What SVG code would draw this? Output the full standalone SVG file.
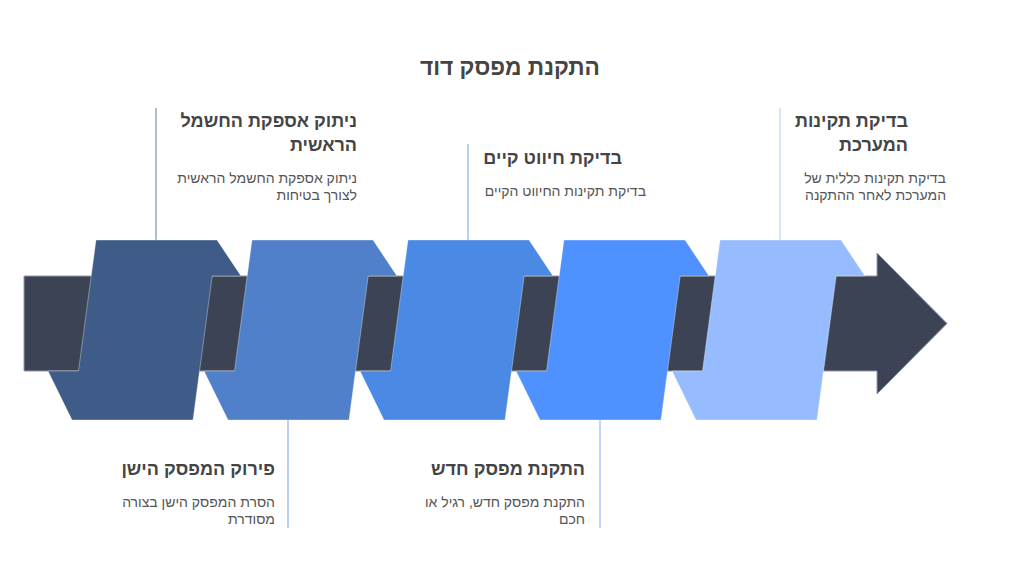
<svg xmlns="http://www.w3.org/2000/svg" width="1020" height="588" viewBox="0 0 1020 588">
<style>
.ttl{font-family:"Liberation Sans",Arial,sans-serif;font-weight:bold;font-size:22.7px;fill:#444444}
.h{font-family:"Liberation Sans",Arial,sans-serif;font-weight:bold;font-size:18px;fill:#444444;text-anchor:end}
.d{font-family:"Liberation Sans",Arial,sans-serif;font-size:14px;fill:#555555;text-anchor:end}
.shape{stroke:#ffffff;stroke-opacity:0.35;stroke-width:1}
.conn{stroke-width:1.5;fill:none}
</style>
<rect width="1020" height="588" fill="#ffffff"/>
<text class="ttl" x="510" y="75" text-anchor="middle">התקנת מפסק דוד</text>

<g id="arrow">
<path d="M24,276 H877 V253 L947,323.5 L877,394 V371 H24 Z" fill="#3B4354" stroke="#9199aa" stroke-width="1"/>
</g>

<g id="connectors">
<line class="conn" x1="156" y1="108" x2="156" y2="240" stroke="#95a6c2"/>
<line class="conn" x1="288" y1="420" x2="288" y2="528" stroke="#a2bce6"/>
<line class="conn" x1="468" y1="144" x2="468" y2="240" stroke="#9fc0f1"/>
<line class="conn" x1="600" y1="420" x2="600" y2="528" stroke="#a7c8ff"/>
<line class="conn" x1="780" y1="108" x2="780" y2="240" stroke="#c8dcff"/>
</g>

<g id="step1">
<polygon class="shape" fill="#3F5C88" points="96,240 217,240 241,276 212.2,276 193,420 72,420 48,371 78.5,371"/>
<text class="h" x="357" y="127">ניתוק אספקת החשמל</text>
<text class="h" x="357" y="151">הראשית</text>
<text class="d" x="357" y="183">ניתוק אספקת החשמל הראשית</text>
<text class="d" x="357" y="200">לצורך בטיחות</text>
</g>

<g id="step2">
<polygon class="shape" fill="#5080CA" transform="translate(156,0)" points="96,240 217,240 241,276 212.2,276 193,420 72,420 48,371 78.5,371"/>
<text class="h" x="275" y="475">פירוק המפסק הישן</text>
<text class="d" x="275" y="507">הסרת המפסק הישן בצורה</text>
<text class="d" x="275" y="524">מסודרת</text>
</g>

<g id="step3">
<polygon class="shape" fill="#4A89E4" transform="translate(312,0)" points="96,240 217,240 241,276 212.2,276 193,420 72,420 48,371 78.5,371"/>
<text class="h" x="622" y="164">בדיקת חיווט קיים</text>
<text class="d" x="646" y="196">בדיקת תקינות החיווט הקיים</text>
</g>

<g id="step4">
<polygon class="shape" fill="#4E91FF" transform="translate(468,0)" points="96,240 217,240 241,276 212.2,276 193,420 72,420 48,371 78.5,371"/>
<text class="h" x="585" y="475">התקנת מפסק חדש</text>
<text class="d" x="585" y="507">התקנת מפסק חדש, רגיל או</text>
<text class="d" x="585" y="524">חכם</text>
</g>

<g id="step5">
<polygon class="shape" fill="#96BCFF" transform="translate(624,0)" points="96,240 217,240 241,276 212.2,276 193,420 72,420 48,371 78.5,371"/>
<text class="h" x="908" y="127">בדיקת תקינות</text>
<text class="h" x="908" y="151">המערכת</text>
<text class="d" x="946" y="183">בדיקת תקינות כללית של</text>
<text class="d" x="946" y="200">המערכת לאחר ההתקנה</text>
</g>
</svg>
